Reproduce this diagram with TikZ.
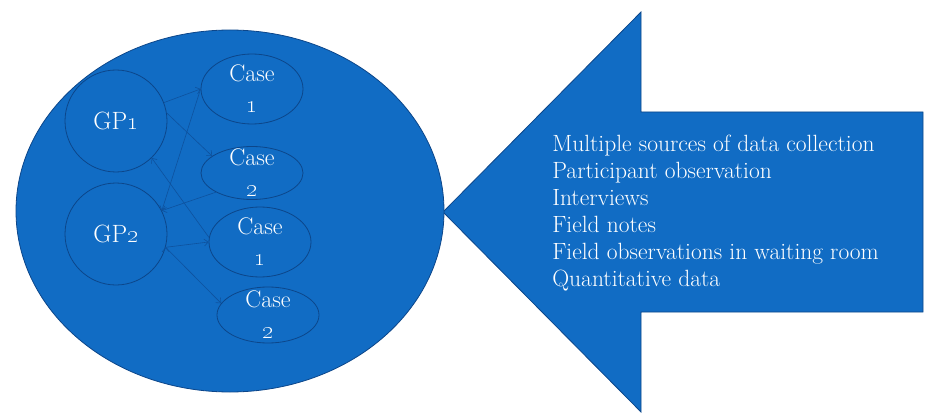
\documentclass[tikz,border=0pt]{standalone}
\usepackage{tikz}
\usetikzlibrary{arrows,arrows.meta,shapes,calc,positioning}

\definecolor{fillblue}{RGB}{17,108,196}
\definecolor{edgeblue}{RGB}{12,70,138}
\definecolor{linkblue}{RGB}{14,82,158}

\begin{document}
\begin{tikzpicture}[->,>={Straight Barb[length=4pt,width=7pt]},semithick,x=1pt,y=1pt]

   \tikzstyle{group}=[circle,draw=edgeblue,thick,minimum size=102pt,text=white,font=\fontsize{25}{28}\selectfont]
   \tikzstyle{case}=[ellipse,draw=edgeblue,thick,minimum width=102pt,inner sep=0pt]
   \tikzstyle{casetext}=[text=white,align=center,inner sep=0pt,font=\fontsize{24}{31}\selectfont]
   \tikzstyle{link}=[draw=linkblue,line width=0.6pt]

   \useasboundingbox (0,0) rectangle (928,413);

   % big arrow pointing at the ellipse
   \draw[-,fill=fillblue,draw=edgeblue,thick] (443,201) -- (641,401) -- (641,301) -- (923,301)
      -- (923,101) -- (641,101) -- (641,1) -- cycle;

   \node[ellipse,draw=edgeblue,thick,fill=fillblue,minimum width=428pt,minimum height=362pt] at (230,202) (world){};

   \node[group] at ([xshift=-114pt,yshift=90pt]world.center) (gp1) {GP\oldstylenums{1}};
   \node[group] at ([xshift=-114pt,yshift=-23pt]world.center) (gp2) {GP\oldstylenums{2}};

   \node[case,minimum height=70pt,label={[casetext]center:{Case\\\oldstylenums{1}}}]
   at ([xshift=22pt,yshift=122pt]world.center) (case1a){};
   \node[case,minimum height=53pt,label={[casetext]center:{Case\\\oldstylenums{2}}}]
   at ([xshift=22pt,yshift=38pt]world.center) (case2a){};
   \node[case,minimum height=70pt,label={[casetext]center:{Case\\\oldstylenums{1}}}]
   at ([xshift=30pt,yshift=-31pt]world.center) (case1b){};
   \node[case,minimum height=56pt,label={[casetext]center:{Case\\\oldstylenums{2}}}]
   at ([xshift=38pt,yshift=-104pt]world.center) (case2b){};

   \node[text=white,align=left,inner sep=0pt,anchor=north west,font=\fontsize{23.5}{27}\selectfont]
   at (552,278) (sources) {Multiple sources of data collection\\Participant observation\\Interviews\\
      Field notes\\Field observations in waiting room\\Quantitative data};

   \path[link] (gp1.21) edge (case1a.west)
               (gp1.9) edge (case2a.157)
               (case1a.west) edge (gp2.27)
               (case2a.208) edge (gp2.27)
               (case1b.175) edge (gp1.314)
               (gp2.345) edge (case1b.west)
               (gp2.345) edge (case2b.166);

\end{tikzpicture}
\end{document}
